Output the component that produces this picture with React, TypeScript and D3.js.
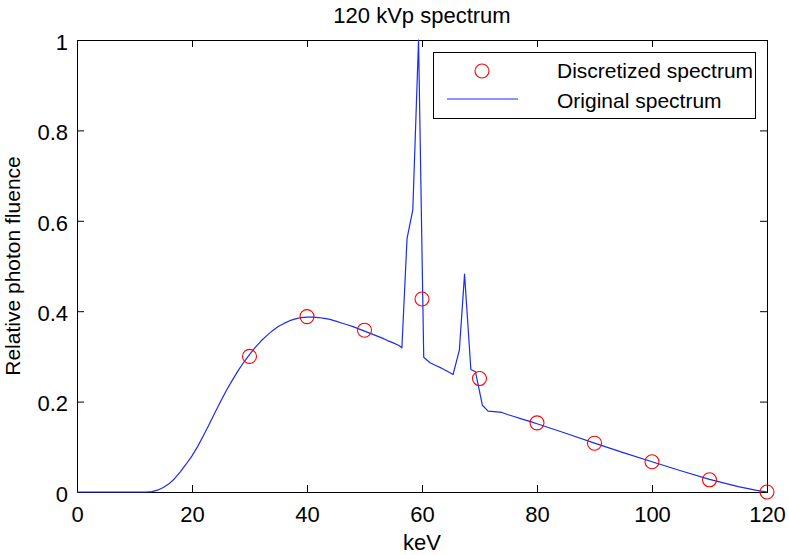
import { useRef, useEffect } from 'react';
import * as d3 from 'd3';

const WIDTH = 789;
const HEIGHT = 555;
const FONT = '"Liberation Sans", Arial, Helvetica, sans-serif';

// Original spectrum (keV -> relative fluence)
const SPECTRUM_KEV = [
  0, 5, 10, 12, 13, 14, 15, 16, 17, 18, 19, 20, 21, 22, 23, 24, 25, 26, 27, 28, 29,
  30, 31, 32, 33, 34, 35, 36, 37, 38, 39, 40, 41, 42, 43, 44, 45, 46, 47, 48, 49,
  50, 51, 52, 53, 54, 55, 56, 56.5, 57.4, 58.4, 59.4, 60.3, 61.4, 62.4, 63.4, 64.4,
  65.4, 66.5, 67.4, 68.5, 69.3, 70.5, 71.5, 72.5, 73.9, 75, 76, 77, 78, 79, 80,
  85, 90, 95, 100, 105, 110, 115, 118, 120,
];
const SPECTRUM_VAL = [
  0, 0, 0, 0, 0.001, 0.004, 0.01, 0.018, 0.03, 0.045, 0.062, 0.08, 0.101, 0.125, 0.15,
  0.176, 0.201, 0.225, 0.247, 0.268, 0.287, 0.304, 0.32, 0.334, 0.346, 0.357, 0.366,
  0.373, 0.379, 0.383, 0.386, 0.387, 0.387, 0.386, 0.384, 0.382, 0.378, 0.374, 0.37,
  0.366, 0.361, 0.356, 0.351, 0.346, 0.341, 0.335, 0.33, 0.324, 0.319, 0.561, 0.624,
  1.0, 0.298, 0.286, 0.28, 0.274, 0.267, 0.26, 0.314, 0.482, 0.271, 0.266, 0.192,
  0.179, 0.178, 0.176, 0.171, 0.167, 0.163, 0.159, 0.155, 0.151, 0.13, 0.108, 0.087,
  0.067, 0.047, 0.028, 0.012, 0.004, 0,
];

// Discretized spectrum (circles)
const DISCRETE_KEV = [30, 40, 50, 60, 70, 80, 90, 100, 110, 120];
const DISCRETE_VAL = [0.3, 0.388, 0.358, 0.427, 0.251, 0.153, 0.108, 0.067, 0.027, 0];

const X_TICKS = [0, 20, 40, 60, 80, 100, 120];
const Y_TICKS = [0, 0.2, 0.4, 0.6, 0.8, 1];
const Y_TICK_LABELS = ['0', '0.2', '0.4', '0.6', '0.8', '1'];

const LEGEND_LABELS = ['Discretized spectrum', 'Original spectrum'];

const LINE_COLOR = '#1a2cf0';
const MARKER_COLOR = '#ff0000';

export default function App() {
  const svgRef = useRef<SVGSVGElement>(null);

  useEffect(() => {
    const svg = d3.select(svgRef.current);
    svg.selectAll('*').remove();

    const margin = { top: 40, right: 22, bottom: 63, left: 77 };
    const width = WIDTH - margin.left - margin.right;
    const height = HEIGHT - margin.top - margin.bottom;

    const x = d3.scaleLinear().domain([0, 120]).range([0, width]);
    const y = d3.scaleLinear().domain([0, 1]).range([height, 0]);

    const g = svg.append('g').attr('transform', `translate(${margin.left},${margin.top})`);

    const styleAxis = (sel: d3.Selection<SVGGElement, unknown, null, undefined>) => {
      sel.select('.domain').remove();
      sel.selectAll('line').attr('stroke', '#000').attr('stroke-width', 1);
      sel.selectAll('text')
        .attr('fill', '#000')
        .attr('font-family', FONT)
        .attr('font-size', 22);
    };

    // axes, ticks pointing inward like matlab
    g.append('g')
      .attr('transform', `translate(0,${height})`)
      .call(d3.axisBottom(x).tickValues(X_TICKS).tickSize(-7).tickSizeOuter(0).tickPadding(14).tickFormat(d3.format('d')))
      .call(styleAxis);

    g.append('g')
      .call(d3.axisTop(x).tickValues(X_TICKS).tickSize(-7).tickSizeOuter(0).tickFormat(() => ''))
      .call(styleAxis);

    g.append('g')
      .call(d3.axisLeft(y).tickValues(Y_TICKS).tickSize(-7).tickSizeOuter(0).tickPadding(9)
        .tickFormat((_, i) => Y_TICK_LABELS[i]))
      .call(styleAxis)
      .call(sel => sel.selectAll('text').attr('dy', '0.42em'));

    g.append('g')
      .attr('transform', `translate(${width},0)`)
      .call(d3.axisRight(y).tickValues(Y_TICKS).tickSize(-7).tickSizeOuter(0).tickFormat(() => ''))
      .call(styleAxis);

    // plot box
    g.append('rect')
      .attr('x', 0.5).attr('y', 0.5)
      .attr('width', width).attr('height', height)
      .attr('fill', 'none')
      .attr('stroke', '#000')
      .attr('stroke-width', 1);

    // original spectrum
    const line = d3.line<number>()
      .x((_, i) => x(SPECTRUM_KEV[i]))
      .y(d => y(d));

    g.append('path')
      .datum(SPECTRUM_VAL)
      .attr('d', line)
      .attr('fill', 'none')
      .attr('stroke', LINE_COLOR)
      .attr('stroke-width', 1.2)
      .attr('stroke-linejoin', 'round');

    // discretized points
    g.selectAll('circle.pt')
      .data(DISCRETE_VAL)
      .join('circle')
      .attr('class', 'pt')
      .attr('cx', (_, i) => x(DISCRETE_KEV[i]))
      .attr('cy', d => y(d))
      .attr('r', 7)
      .attr('fill', 'none')
      .attr('stroke', MARKER_COLOR)
      .attr('stroke-width', 1.1);

    // title and axis labels
    svg.append('text')
      .attr('x', margin.left + width / 2).attr('y', 23)
      .attr('text-anchor', 'middle')
      .attr('font-family', FONT).attr('font-size', 22)
      .text('120 kVp spectrum');

    svg.append('text')
      .attr('x', margin.left + width / 2).attr('y', 550)
      .attr('text-anchor', 'middle')
      .attr('font-family', FONT).attr('font-size', 22)
      .text('keV');

    svg.append('text')
      .attr('transform', `translate(20,${margin.top + height / 2}) rotate(-90)`)
      .attr('text-anchor', 'middle')
      .attr('font-family', FONT).attr('font-size', 21)
      .text('Relative photon fluence');

    // legend
    const lg = svg.append('g').attr('transform', 'translate(433,52)');
    lg.append('rect')
      .attr('x', 0.5).attr('y', 0.5)
      .attr('width', 322).attr('height', 66)
      .attr('fill', '#fff')
      .attr('stroke', '#000');
    lg.append('circle')
      .attr('cx', 49).attr('cy', 19).attr('r', 7)
      .attr('fill', 'none').attr('stroke', MARKER_COLOR).attr('stroke-width', 1.1);
    lg.append('line')
      .attr('x1', 14).attr('x2', 85).attr('y1', 47).attr('y2', 47)
      .attr('stroke', LINE_COLOR).attr('stroke-width', 1.2);
    LEGEND_LABELS.forEach((label, i) => {
      lg.append('text')
        .attr('x', 124).attr('y', 26 + i * 30)
        .attr('font-family', FONT).attr('font-size', 21)
        .text(label);
    });
  }, []);

  return (
    <svg
      ref={svgRef}
      width={WIDTH}
      height={HEIGHT}
      style={{ position: 'absolute', left: 0, top: 0, background: '#fff', display: 'block' }}
    />
  );
}
